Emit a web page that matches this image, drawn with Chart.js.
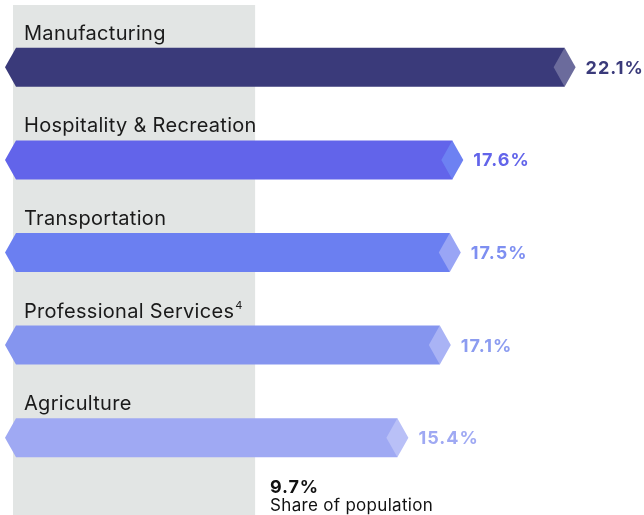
<!DOCTYPE html>
<html>
<head>
<meta charset="utf-8">
<script src="https://cdn.jsdelivr.net/npm/chart.js@4/dist/chart.umd.min.js"></script>
<style>
  html, body { margin: 0; padding: 0; background: #fff; }
  #wrap { width: 644px; height: 515px; position: relative; }
</style>
</head>
<body>
<div id="wrap"><canvas id="sectorChart"></canvas></div>
<script>
const sectors = ['Manufacturing', 'Hospitality & Recreation', 'Transportation', 'Professional Services', 'Agriculture'];
const sectorNotes = ['', '', '', '4', ''];
const shares = [22.1, 17.6, 17.5, 17.1, 15.4];
const populationShare = 9.7;
const populationLabel = 'Share of population';

const barColors = ['#3a3a7a', '#6264ea', '#6b7ff1', '#8595ef', '#9fa9f3'];
const tipColors = ['#6b6b9c', '#6d81f2', '#99a5f5', '#a9b3f5', '#b9c0f7'];
const textColors = ['#3a3a7a', '#6264ea', '#7e8ff1', '#8c9cf0', '#9fa9f3'];

const FONT = 'Inter, "Noto Sans", sans-serif';

// grey band for population share, plus labels and hex-shaped bars
const sectorBars = {
    id: 'sectorBars',
    beforeDatasetsDraw(chart) {
        const ctx = chart.ctx;
        const x = chart.scales.x;
        ctx.save();
        ctx.fillStyle = '#e2e5e4';
        const left = x.getPixelForValue(0);
        ctx.fillRect(left, 5, x.getPixelForValue(populationShare) - left, chart.height - 5);
        ctx.restore();
    },
    afterDatasetsDraw(chart) {
        const ctx = chart.ctx;
        const meta = chart.getDatasetMeta(0);
        const x = chart.scales.x;
        const x0 = x.getPixelForValue(0);
        ctx.save();
        meta.data.forEach((bar, i) => {
            const top = bar.y - bar.height / 2;
            const bottom = bar.y + bar.height / 2;
            const end = bar.x;
            const tip = 11;

            ctx.fillStyle = barColors[i];
            ctx.beginPath();
            ctx.moveTo(x0 - 8, bar.y);
            ctx.lineTo(x0 + 3, top);
            ctx.lineTo(end, top);
            ctx.lineTo(end, bottom);
            ctx.lineTo(x0 + 3, bottom);
            ctx.closePath();
            ctx.fill();

            ctx.fillStyle = tipColors[i];
            ctx.beginPath();
            ctx.moveTo(end - tip, bar.y);
            ctx.lineTo(end, top);
            ctx.lineTo(end + tip, bar.y);
            ctx.lineTo(end, bottom);
            ctx.closePath();
            ctx.fill();

            // value label
            ctx.fillStyle = textColors[i];
            ctx.font = 'bold 18px ' + FONT;
            ctx.letterSpacing = '1px';
            ctx.textBaseline = 'middle';
            ctx.textAlign = 'left';
            ctx.fillText(shares[i].toFixed(1) + '%', end + tip + 10, bar.y + 1);

            // category label
            ctx.fillStyle = '#1a1a1a';
            ctx.font = '20px ' + FONT;
            ctx.letterSpacing = '0.3px';
            ctx.textBaseline = 'alphabetic';
            ctx.fillText(sectors[i], 24, top - 8);
            if (sectorNotes[i]) {
                const w = ctx.measureText(sectors[i]).width;
                ctx.font = '11px ' + FONT;
                ctx.fillText(sectorNotes[i], 24 + w + 1, top - 17);
            }
        });

        // population share annotation
        const px = x.getPixelForValue(populationShare) + 15;
        ctx.fillStyle = '#111';
        ctx.font = 'bold 18px ' + FONT;
        ctx.letterSpacing = '0.8px';
        ctx.fillText(populationShare.toFixed(1) + '%', px, 493);
        ctx.font = '17px ' + FONT;
        ctx.letterSpacing = '0.3px';
        ctx.fillText(populationLabel, px, 511);
        ctx.restore();
    }
};

new Chart(document.getElementById('sectorChart'), {
    type: 'bar',
    data: {
        labels: sectors,
        datasets: [{
            data: shares,
            backgroundColor: 'rgba(0,0,0,0)',
            barThickness: 39
        }]
    },
    options: {
        indexAxis: 'y',
        responsive: true,
        maintainAspectRatio: false,
        animation: false,
        layout: {
            padding: { left: 13, right: 7, top: 21, bottom: 31 }
        },
        scales: {
            x: { min: 0, max: 25, display: false },
            y: { display: false }
        },
        plugins: {
            legend: { display: false },
            tooltip: { enabled: false }
        }
    },
    plugins: [sectorBars]
});
</script>
</body>
</html>
